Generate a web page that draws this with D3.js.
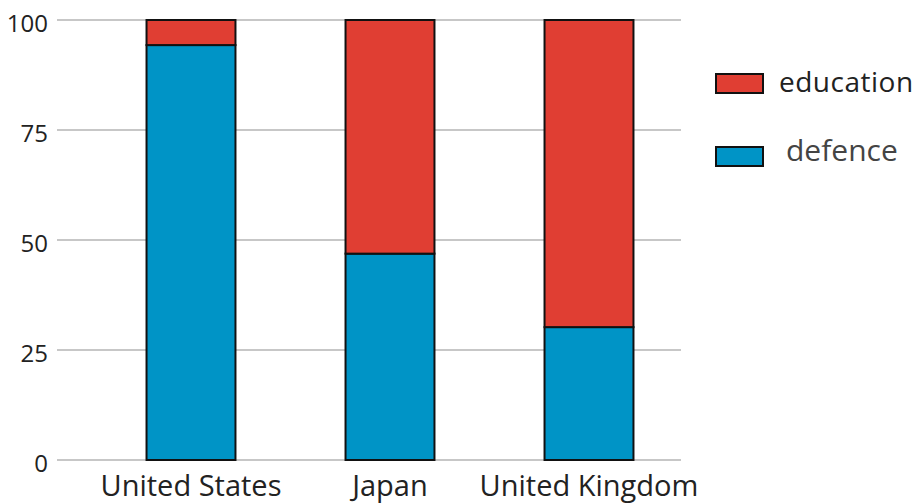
<!DOCTYPE html>
<html lang="en">
<head>
<meta charset="UTF-8">
<title>Education vs defence</title>
<script src="https://d3js.org/d3.v7.min.js"></script>
<style>
    body { margin: 0; background: #fff; font-family: "Open Sans", sans-serif; }
    .grid line { stroke: #b4b4b4; stroke-width: 1.5; }
    .tick-y { font-size: 24px; fill: #222; text-anchor: end; }
    .tick-x { font-size: 29px; fill: #222; text-anchor: middle; }
    .bar { stroke: #111; stroke-width: 2; }
</style>
</head>
<body>
<svg id="chart" width="916" height="504"></svg>
<script>
    // data
    const countries = ["United States", "Japan", "United Kingdom"];
    const defence = [94.3, 46.9, 30.2];
    const education = [5.7, 53.1, 69.8];
    const yTicks = [0, 25, 50, 75, 100];
    const seriesNames = ["education", "defence"];
    const seriesColors = ["#e03e33", "#0094c6"];

    const svg = d3.select("#chart");
    const plotLeft = 57, plotRight = 681;

    const x = d3.scaleBand().domain(countries).range([91.5, 688.5]).paddingInner(0.553).paddingOuter(0.2765);
    const y = d3.scaleLinear().domain([0, 100]).range([460, 20]);

    // grid lines
    svg.append("g").attr("class", "grid")
        .selectAll("line").data(yTicks).enter().append("line")
        .attr("x1", plotLeft).attr("x2", plotRight)
        .attr("y1", d => y(d)).attr("y2", d => y(d));

    // y tick labels
    svg.selectAll(".tick-y").data(yTicks).enter().append("text")
        .attr("class", "tick-y")
        .attr("x", 48).attr("y", d => y(d))
        .attr("dy", "0.48em")
        .text(d => d);

    // stacked bars
    const rows = countries.map((c, i) => ({ country: c, defence: defence[i], education: education[i] }));
    const stack = d3.stack().keys(["defence", "education"])(rows);
    const colorOf = { education: seriesColors[0], defence: seriesColors[1] };

    stack.forEach(layer => {
        svg.selectAll(".bar-" + layer.key).data(layer).enter().append("rect")
            .attr("class", "bar bar-" + layer.key)
            .attr("x", d => x(d.data.country))
            .attr("width", x.bandwidth())
            .attr("y", d => y(d[1]))
            .attr("height", d => y(d[0]) - y(d[1]))
            .attr("fill", colorOf[layer.key]);
    });

    // x labels
    svg.selectAll(".tick-x").data(countries).enter().append("text")
        .attr("class", "tick-x")
        .attr("x", d => x(d) + x.bandwidth() / 2)
        .attr("y", 496)
        .text(d => d);

    // legend
    const legend = svg.append("g").attr("transform", "translate(716,0)");
    const legendY = [74, 147];
    const legendTextX = [63, 70];
    const legendBase = [92, 161];
    const legendSize = [28, 30];
    const legendSpacing = [0.5, 0];
    const legendTextColor = ["#222", "#444"];
    seriesNames.forEach((name, i) => {
        legend.append("rect")
            .attr("x", 0).attr("y", legendY[i])
            .attr("width", 47).attr("height", 19)
            .attr("fill", seriesColors[i])
            .attr("stroke", "#111").attr("stroke-width", 2);
        legend.append("text")
            .attr("x", legendTextX[i]).attr("y", legendBase[i])
            .attr("font-size", legendSize[i])
            .attr("letter-spacing", legendSpacing[i])
            .attr("fill", legendTextColor[i])
            .text(name);
    });
</script>
</body>
</html>
